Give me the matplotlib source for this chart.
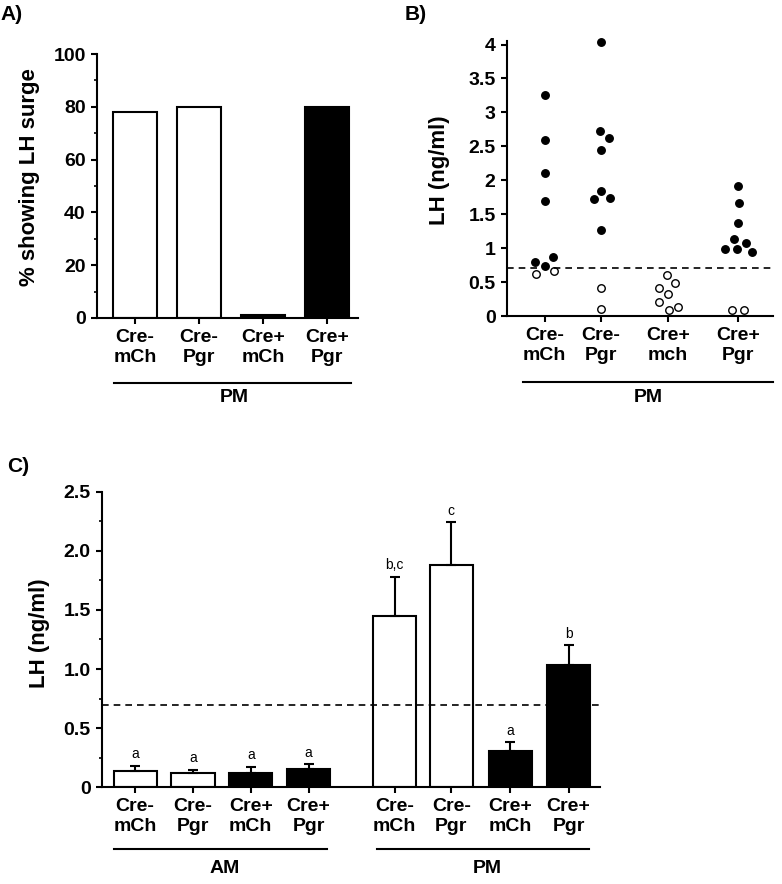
import numpy as np
import matplotlib.pyplot as plt
from matplotlib.ticker import MultipleLocator, FuncFormatter

plt.rcParams['font.family'] = ['Liberation Sans', 'DejaVu Sans']
plt.rcParams['font.weight'] = 'bold'

# ---- data ----
# A) % showing LH surge (PM)
a_groups = ['Cre-\nmCh', 'Cre-\nPgr', 'Cre+\nmCh', 'Cre+\nPgr']
a_values = [78, 80, 1, 80]
a_colors = ['white', 'white', 'black', 'black']

# B) individual LH values (PM); offsets = horizontal spread of dots
b_groups = ['Cre-\nmCh', 'Cre-\nPgr', 'Cre+\nmch', 'Cre+\nPgr']
b_pos = [1.0, 1.88, 2.92, 4.02]
b_filled = [[3.25, 2.60, 2.10, 1.69, 0.80, 0.74, 0.87],
            [4.03, 2.73, 2.62, 2.44, 1.84, 1.72, 1.74, 1.27],
            [],
            [1.91, 1.67, 1.37, 1.13, 1.07, 0.99, 0.99, 0.95]]
b_filled_off = [[0, 0, 0, 0, -0.145, 0, 0.13],
                [0, -0.02, 0.12, 0, 0, -0.115, 0.135, 0],
                [],
                [0, 0.01, 0, -0.07, 0.115, -0.2, -0.025, 0.215]]
b_open = [[0.62, 0.66],
          [0.41, 0.11],
          [0.61, 0.48, 0.42, 0.32, 0.21, 0.14, 0.09],
          [0.09, 0.09]]
b_open_off = [[-0.13, 0.15],
              [0, 0],
              [-0.015, 0.12, -0.14, 0, -0.135, 0.16, 0.015],
              [-0.09, 0.095]]
threshold = 0.71

# C) mean LH +/- SEM, AM and PM
c_groups = ['Cre-\nmCh', 'Cre-\nPgr', 'Cre+\nmCh', 'Cre+\nPgr'] * 2
c_pos = [0, 1, 2, 3, 4.49, 5.47, 6.49, 7.5]
c_mean = [0.14, 0.12, 0.12, 0.155, 1.45, 1.88, 0.31, 1.03]
c_sem = [0.04, 0.03, 0.05, 0.04, 0.33, 0.36, 0.07, 0.17]
c_colors = ['white', 'white', 'black', 'black'] * 2
c_letters = ['a', 'a', 'a', 'a', 'b,c', 'c', 'a', 'b']

fig = plt.figure(figsize=(7.82, 8.84), dpi=100)

def style(ax):
    for s in ['top', 'right']:
        ax.spines[s].set_visible(False)
    for s in ['left', 'bottom']:
        ax.spines[s].set_linewidth(1.5)
    ax.tick_params(axis='both', which='major', direction='out', length=4, width=1.5,
                   labelsize=14, pad=4)
    ax.tick_params(axis='y', which='minor', direction='out', length=2.5, width=1.2)
    for lab in ax.get_xticklabels() + ax.get_yticklabels():
        lab.set_fontweight('bold')

def group_line(ax, x0, x1, y, label, xl, yl):
    tr = ax.get_xaxis_transform()
    ax.plot([x0, x1], [y, y], color='black', lw=1.5, transform=tr, clip_on=False)
    ax.text(xl, yl, label, transform=tr, ha='center', va='center',
            fontsize=14, fontweight='bold')

# ---- A ----
axA = fig.add_axes([0.124, 0.6403, 0.334, 0.2986])
xa = np.arange(len(a_groups))
axA.bar(xa, a_values, width=0.69, color=a_colors, edgecolor='black', linewidth=1.5)
axA.set_xlim(-0.59, 3.48)
axA.set_ylim(0, 100)
axA.yaxis.set_major_locator(MultipleLocator(20))
axA.yaxis.set_minor_locator(MultipleLocator(10))
axA.set_xticks(xa)
axA.set_xticklabels(a_groups)
style(axA)
axA.set_ylabel('% showing LH surge', fontsize=16, fontweight='bold')
axA.yaxis.set_label_coords(-0.22, 0.535)
group_line(axA, -0.33, 3.375, -0.246, 'PM', 1.55, -0.30)

# ---- B ----
axB = fig.add_axes([0.648, 0.6425, 0.3402, 0.311])
for i in range(len(b_groups)):
    xf = [b_pos[i] + o for o in b_filled_off[i]]
    xo = [b_pos[i] + o for o in b_open_off[i]]
    axB.plot(xf, b_filled[i], 'o', color='black', markersize=5.4, linestyle='none',
             clip_on=False)
    axB.plot(xo, b_open[i], 'o', markerfacecolor='white', markeredgecolor='black',
             markersize=5.4, markeredgewidth=1, linestyle='none', clip_on=False)
axB.axhline(threshold, color='black', lw=1.2, linestyle=(0, (4, 3)))
axB.set_xlim(0.41, 4.56)
axB.set_ylim(0, 4.05)
axB.set_yticks(np.arange(0, 4.01, 0.5))
axB.yaxis.set_major_formatter(FuncFormatter(lambda v, p: '%g' % v))
axB.set_xticks(b_pos)
axB.set_xticklabels(b_groups)
style(axB)
axB.set_ylabel('LH (ng/ml)', fontsize=16, fontweight='bold')
axB.yaxis.set_label_coords(-0.214, 0.53)
group_line(axB, 0.656, 4.56, -0.239, 'PM', 2.61, -0.298)

# ---- C ----
axC = fig.add_axes([0.130, 0.1094, 0.637, 0.3344])
axC.bar(c_pos, c_mean, width=0.75, color=c_colors, edgecolor='black', linewidth=1.5)
axC.errorbar(c_pos, c_mean, yerr=[np.zeros(len(c_mean)), c_sem], fmt='none',
             ecolor='black', elinewidth=1.5, capsize=3.5, capthick=1.5)
for x, m, e, t in zip(c_pos, c_mean, c_sem, c_letters):
    axC.text(x, m + e + 0.04, t, ha='center', va='bottom', fontsize=10,
             fontweight='normal')
axC.axhline(0.70, color='black', lw=1.2, linestyle=(0, (4, 3)))
axC.set_xlim(-0.58, 8.04)
axC.set_ylim(0, 2.5)
axC.yaxis.set_major_locator(MultipleLocator(0.5))
axC.yaxis.set_minor_locator(MultipleLocator(0.25))
axC.yaxis.set_major_formatter(FuncFormatter(lambda v, p: '0' if v == 0 else '%.1f' % v))
axC.set_xticks(c_pos)
axC.set_xticklabels(c_groups)
style(axC)
axC.set_ylabel('LH (ng/ml)', fontsize=16, fontweight='bold')
axC.yaxis.set_label_coords(-0.104, 0.52)
group_line(axC, -0.36, 3.32, -0.2077, 'AM', 1.54, -0.276)
group_line(axC, 4.19, 7.86, -0.2077, 'PM', 6.10, -0.276)

# panel letters
fig.text(0.0, 1 - 15 / 884, 'A)', fontsize=15, fontweight='bold', va='center')
fig.text(405 / 782, 1 - 15 / 884, 'B)', fontsize=15, fontweight='bold', va='center')
fig.text(7 / 782, 1 - 467 / 884, 'C)', fontsize=15, fontweight='bold', va='center')

plt.savefig('out.png', dpi=100)
